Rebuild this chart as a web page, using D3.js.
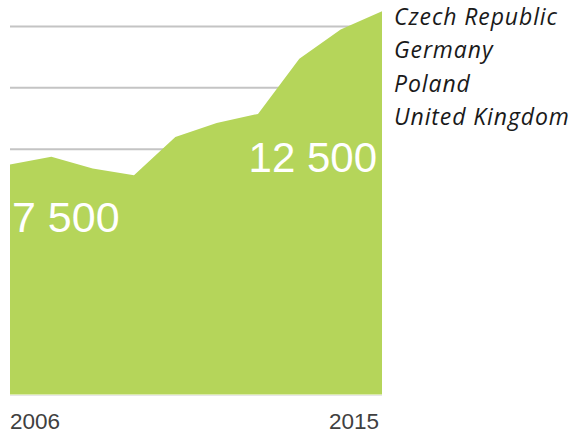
<!DOCTYPE html>
<html>
<head>
<meta charset="utf-8">
<script src="https://cdn.jsdelivr.net/npm/d3@7"></script>
<style>
  body { margin: 0; background: #fff; }
  svg { display: block; }
</style>
</head>
<body>
<div id="chart"></div>
<script>
var years = [2006, 2007, 2008, 2009, 2010, 2011, 2012, 2013, 2014, 2015];
var values = [7500, 7750, 7370, 7150, 8400, 8850, 9150, 10950, 11900, 12500];
var gridValues = [2000, 4000, 6000, 8000, 10000, 12000];
var legendNames = ["Czech Republic", "Germany", "Poland", "United Kingdom"];
var endLabels = ["7 500", "12 500"];

var width = 576, height = 435;

var x = d3.scaleLinear()
    .domain([2006, 2015])
    .range([10, 382]);

var y = d3.scaleLinear()
    .domain([0, 12000])
    .range([394.5, 26.5]);

var svg = d3.select('#chart').append('svg')
    .attr('width', width)
    .attr('height', height);

// baseline
svg.append('line')
    .attr('x1', x(2006)).attr('x2', x(2015))
    .attr('y1', y(0) + 1).attr('y2', y(0) + 1)
    .style('stroke', '#e6e6e6')
    .style('stroke-width', 1);

svg.selectAll('.grid')
    .data(gridValues)
    .enter().append('line')
    .attr('class', 'grid')
    .attr('x1', x(2006)).attr('x2', x(2015))
    .attr('y1', function(d) { return y(d); })
    .attr('y2', function(d) { return y(d); })
    .style('stroke', '#c4c4c4')
    .style('stroke-width', 2);

var area = d3.area()
    .x(function(d, i) { return x(years[i]); })
    .y0(y(0))
    .y1(function(d) { return y(d); });

svg.append('path')
    .datum(values)
    .attr('d', area)
    .style('fill', '#b5d55a');

// value labels at first and last points
svg.append('text')
    .attr('x', x(2006) + 2)
    .attr('y', y(values[0]) + 67)
    .style('font', '43px "Liberation Sans", Arial, sans-serif')
    .style('fill', '#fff')
    .text(endLabels[0]);

svg.append('text')
    .attr('x', x(2015) - 5)
    .attr('y', y(values[values.length - 1]) + 161)
    .attr('text-anchor', 'end')
    .style('font', '42px "Liberation Sans", Arial, sans-serif')
    .style('fill', '#fff')
    .text(endLabels[1]);

// x labels
svg.append('text')
    .attr('x', x(2006))
    .attr('y', 429)
    .style('font', '22.5px "Liberation Sans", Arial, sans-serif')
    .style('fill', '#404040')
    .text(years[0]);

svg.append('text')
    .attr('x', x(2015) - 3)
    .attr('y', 429)
    .attr('text-anchor', 'end')
    .style('font', '22.5px "Liberation Sans", Arial, sans-serif')
    .style('fill', '#404040')
    .text(years[years.length - 1]);

// legend
svg.selectAll('.legend')
    .data(legendNames)
    .enter().append('text')
    .attr('class', 'legend')
    .attr('x', 394)
    .attr('y', function(d, i) { return 25 + i * 33.4; })
    .style('font', 'italic 23px "Open Sans", sans-serif')
    .style('letter-spacing', '0.9px')
    .style('fill', '#1a1a1a')
    .text(function(d) { return d; });
</script>
</body>
</html>
